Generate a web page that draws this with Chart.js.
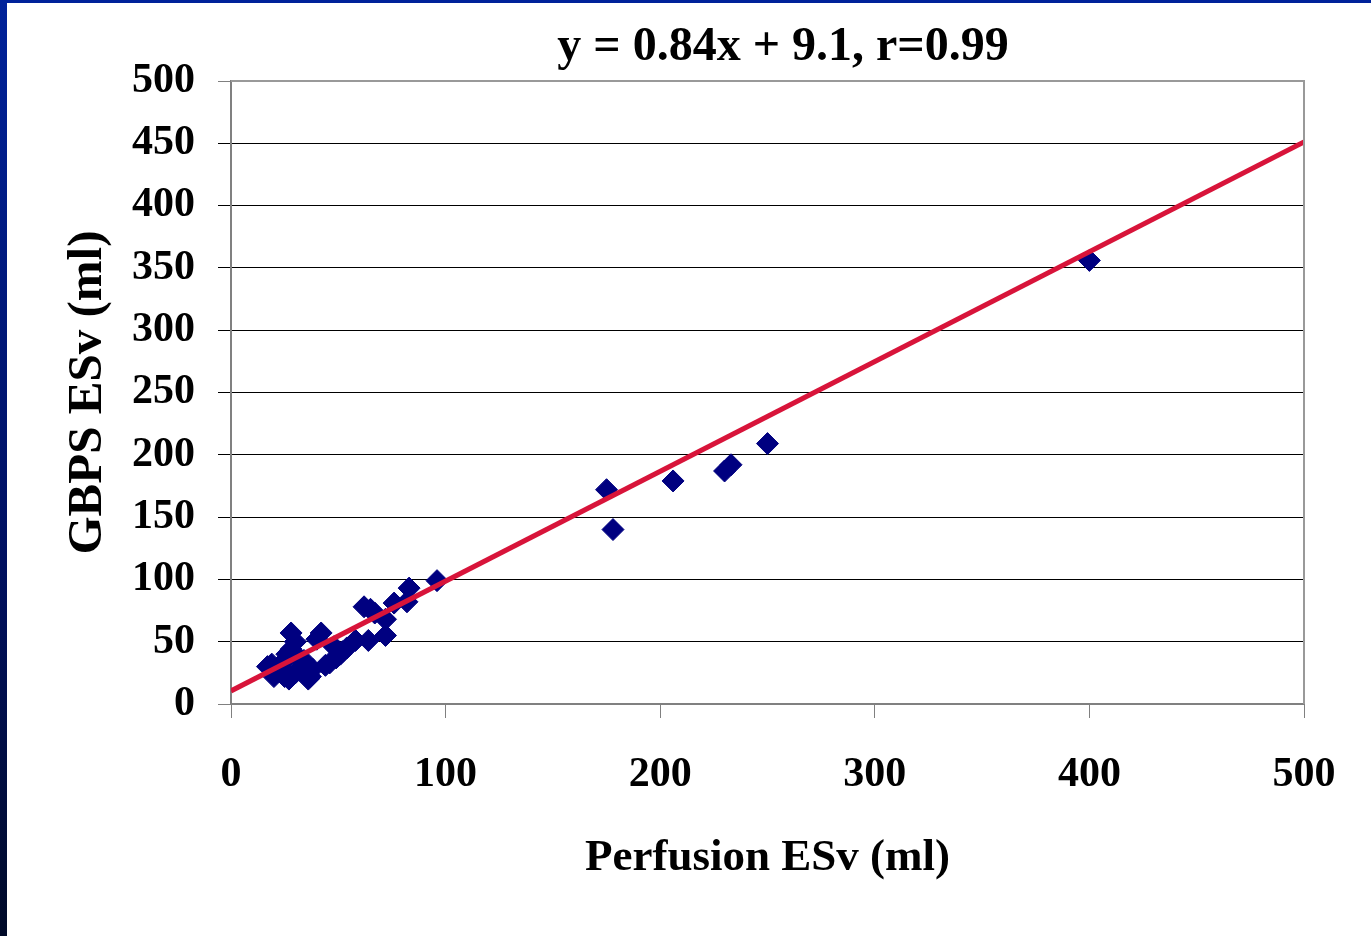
<!DOCTYPE html>
<html>
<head>
<meta charset="utf-8">
<script src="https://cdn.jsdelivr.net/npm/chart.js@4.4.0/dist/chart.umd.min.js"></script>
<style>
  body { margin: 0; background: #fff; }
  #wrap { position: relative; width: 1371px; height: 936px; }
  #left { position: absolute; left: 0; top: 0; width: 7px; height: 936px;
          background: linear-gradient(#00229a, #001060 60%, #000a28); }
  #top { position: absolute; left: 0; top: 0; width: 1371px; height: 3px; background: #00229a; }
</style>
</head>
<body>
<div id="wrap">
  <canvas id="myChart" width="1371" height="936"></canvas>
  <div id="left"></div>
  <div id="top"></div>
</div>
<script>
// ----------------- Data ----------------------------------------------//
const perfusion = [400, 250, 233, 230, 206, 175, 178, 96, 83, 82, 76, 62, 65, 67, 72, 72,
  64, 58, 54, 51, 49, 46, 44, 42, 40, 37, 36, 38, 33, 30, 28, 28, 26, 25, 24, 27, 25, 20,
  22, 17, 19, 30, 34, 31, 48, 52];
const gbps = [356, 209, 192, 187, 179, 172, 140, 99, 93, 82, 81, 78, 76, 73, 68, 55,
  51, 51, 45, 40, 37, 33, 31, 57, 52, 22, 20, 28, 30, 50, 57, 44, 40, 35, 28, 20, 22, 22,
  26, 30, 32, 25, 35, 38, 46, 42];

// regression line end points (as drawn)
const fitX = [0, 500];
const fitY = [10.5, 451];

const yTicks = [0, 50, 100, 150, 200, 250, 300, 350, 400, 450, 500];
const xTicks = [0, 100, 200, 300, 400, 500];

const chartTitle = "y = 0.84x + 9.1, r=0.99";

const serif = "'Liberation Serif', 'Times New Roman', serif";

// ----------------- Chart -------------------------//
const points = perfusion.map((x, i) => ({ x: x, y: gbps[i] }));
const fitLine = fitX.map((x, i) => ({ x: x, y: fitY[i] }));

// draws the title text and the grey frame of the plot area
const framePlugin = {
  id: "frame",
  afterDraw(chart) {
    const { ctx, chartArea } = chart;
    ctx.save();
    ctx.strokeStyle = "#999999";
    ctx.lineWidth = 2;
    ctx.beginPath();
    ctx.moveTo(chartArea.left, chartArea.top);
    ctx.lineTo(chartArea.right, chartArea.top);
    ctx.lineTo(chartArea.right, chartArea.bottom);
    ctx.stroke();
    ctx.fillStyle = "#000";
    ctx.font = "bold 48px " + serif;
    ctx.textAlign = "center";
    ctx.textBaseline = "middle";
    ctx.fillText(chartTitle, 783, 48);
    ctx.restore();
  },
};

const ctx = document.getElementById("myChart");
const myChart = new Chart(ctx, {
  type: "scatter",
  data: {
    datasets: [
      {
        type: "line",
        data: fitLine,
        borderColor: "#d8143a",
        borderWidth: 5,
        pointRadius: 0,
        fill: false,
        order: 0,
      },
      {
        data: points,
        pointStyle: "rectRot",
        pointRadius: 11,
        backgroundColor: "#000080",
        borderColor: "#000080",
        borderWidth: 1,
        order: 1,
      },
    ],
  },
  options: {
    responsive: false,
    animation: false,
    layout: { padding: { top: 81, right: 67, bottom: 0, left: 0 } },
    scales: {
      x: {
        type: "linear",
        min: 0,
        max: 500,
        afterBuildTicks: (scale) => { scale.ticks = xTicks.map((v) => ({ value: v })); },
        afterFit: (scale) => { scale.height = 232; },
        grid: { drawOnChartArea: false, drawTicks: true, tickLength: 14, color: "#808080" },
        border: { color: "#808080", width: 2 },
        ticks: { color: "#000", padding: 32, font: { family: serif, size: 42, weight: "bold" } },
        title: {
          display: true,
          text: "Perfusion ESv (ml)",
          color: "#000",
          font: { family: serif, size: 45, weight: "bold" },
          padding: { top: 0, bottom: 51 },
        },
      },
      y: {
        min: 0,
        max: 500,
        afterBuildTicks: (scale) => { scale.ticks = yTicks.map((v) => ({ value: v })); },
        afterFit: (scale) => { scale.width = 231; },
        grid: {
          tickLength: 13,
          color: (c) => (c.tick && (c.tick.value === 0 || c.tick.value === 500) ? "#808080" : "#000"),
        },
        border: { color: "#808080", width: 2 },
        ticks: { color: "#000", padding: 23, font: { family: serif, size: 42, weight: "bold" } },
        title: {
          display: true,
          text: "GBPS ESv (ml)",
          color: "#000",
          font: { family: serif, size: 49, weight: "bold" },
          padding: { top: 59, bottom: 0 },
        },
      },
    },
    plugins: {
      legend: { display: false },
      tooltip: { enabled: false },
    },
  },
  plugins: [framePlugin],
});
</script>
</body>
</html>
